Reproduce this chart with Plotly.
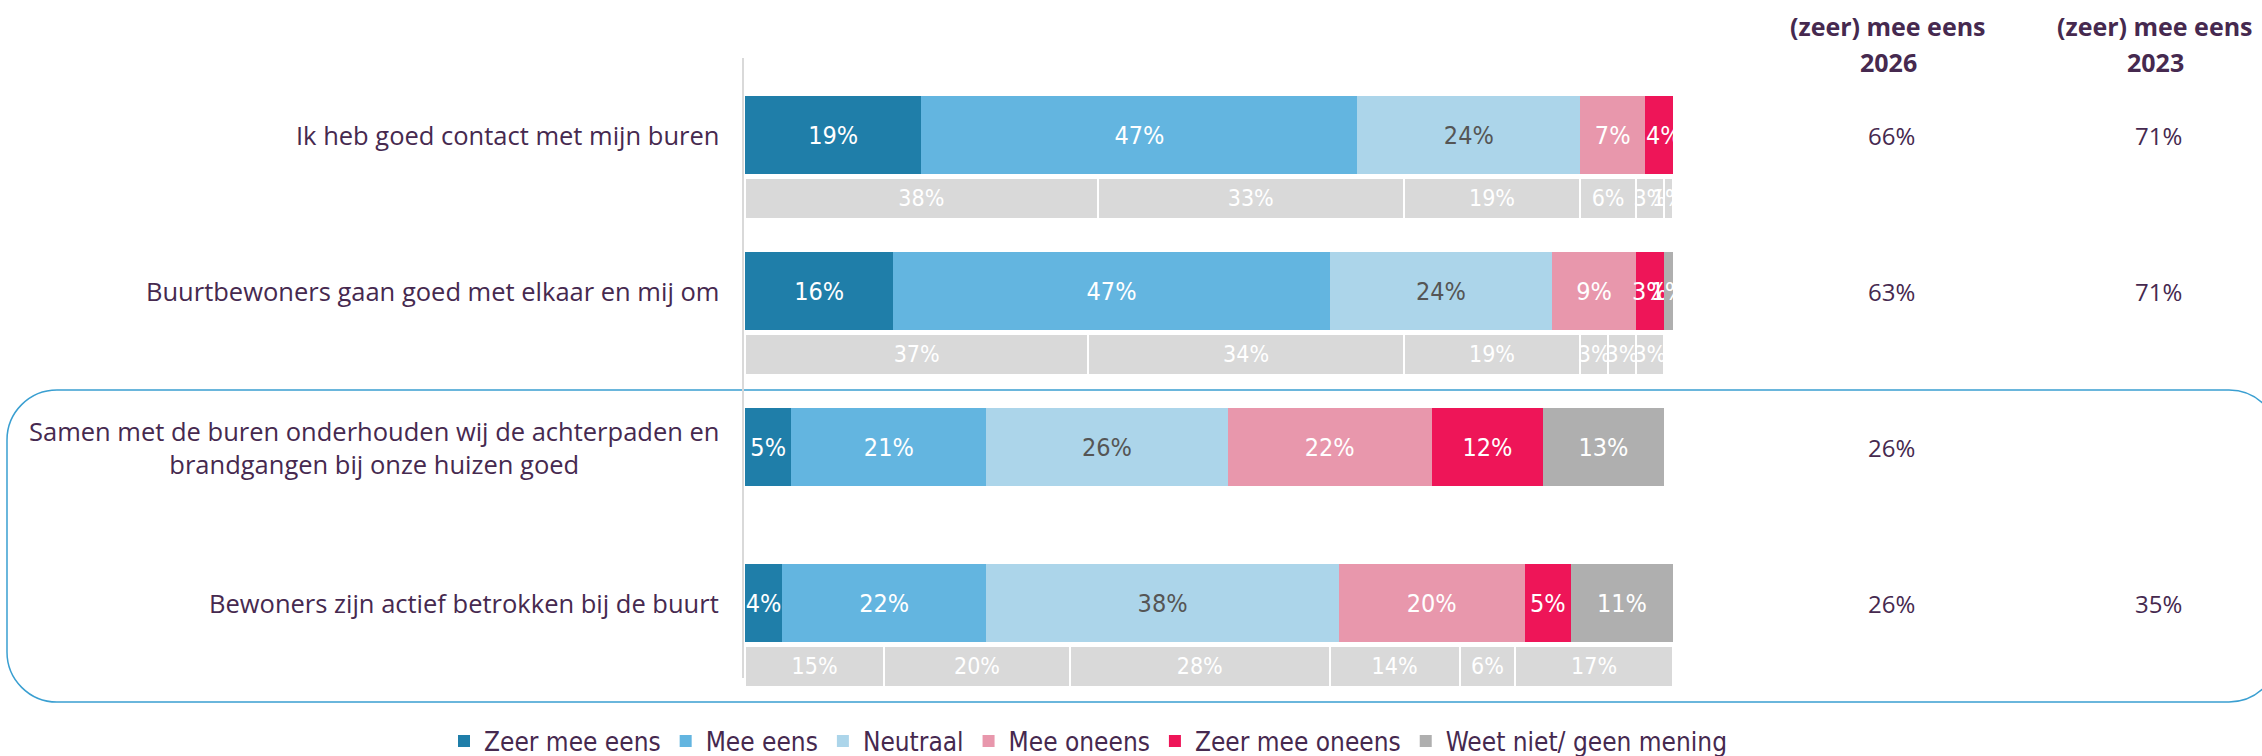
import plotly.graph_objects as go

# Stellingen (rows, top to bottom)
statements = [
    "Ik heb goed contact met mijn buren",
    "Buurtbewoners gaan goed met elkaar en mij om",
    "Samen met de buren onderhouden wij de achterpaden en<br>brandgangen bij onze huizen goed",
    "Bewoners zijn actief betrokken bij de buurt",
]

answer_labels = ["Zeer mee eens", "Mee eens", "Neutraal", "Mee oneens",
                 "Zeer mee oneens", "Weet niet/ geen mening"]

# Percentages 2026 per answer category
zeer_mee_eens_2026 = [19, 16, 5, 4]
mee_eens_2026 = [47, 47, 21, 22]
neutraal_2026 = [24, 24, 26, 38]
mee_oneens_2026 = [7, 9, 22, 20]
zeer_mee_oneens_2026 = [4, 3, 12, 5]
weet_niet_2026 = [0, 1, 13, 11]

# Percentages 2023 per answer category (statement 3 not asked in 2023)
zeer_mee_eens_2023 = [38, 37, None, 15]
mee_eens_2023 = [33, 34, None, 20]
neutraal_2023 = [19, 19, None, 28]
mee_oneens_2023 = [6, 3, None, 14]
zeer_mee_oneens_2023 = [3, 3, None, 6]
weet_niet_2023 = [1, 3, None, 17]

series_2026 = [zeer_mee_eens_2026, mee_eens_2026, neutraal_2026,
               mee_oneens_2026, zeer_mee_oneens_2026, weet_niet_2026]
series_2023 = [zeer_mee_eens_2023, mee_eens_2023, neutraal_2023,
               mee_oneens_2023, zeer_mee_oneens_2023, weet_niet_2023]

colors = ["#1f7ea9", "#63b5e0", "#acd5ea", "#e897ac", "#ee1558", "#afafaf"]
label_colors = ["white", "white", "#555555", "white", "white", "white"]
ghost_color = "#d9d9d9"
purple = "#46294f"

W, H = 2262, 756
M_L, M_R = 745, 589          # plot area spans the 0-100% bar range
M_B = 40                     # room below the plot area for the legend
PLOT_H = H - M_B
ROW_PX0, ROW_STEP = 135, 156  # pixel centre of first row and row spacing
GHOST_OFFSET = 0.407
MAIN_W, GHOST_W = 0.5, 0.263

narrow = "Liberation Sans Narrow, DejaVu Sans Condensed, Arial Narrow, sans-serif"
body = "Open Sans, Noto Sans, sans-serif"

rows = list(range(len(statements)))
ghost_rows = [r + GHOST_OFFSET for r in rows]


def pct_text(vals):
    return [f"{v}%" if v else "" for v in vals]


fig = go.Figure()

# 2026 bars
for name, vals, col, tcol in zip(answer_labels, series_2026, colors, label_colors):
    fig.add_trace(go.Bar(
        name=name, x=vals, y=rows, orientation="h", width=MAIN_W,
        marker=dict(color=col, line=dict(width=0)),
        text=pct_text(vals), textposition="inside", insidetextanchor="middle",
        textangle=0, constraintext="none",
        textfont=dict(family=narrow, size=25, color=tcol),
        hoverinfo="skip",
    ))

# 2023 reference bars (grey)
for name, vals in zip(answer_labels, series_2023):
    fig.add_trace(go.Bar(
        name=name + " 2023", x=vals, y=ghost_rows, orientation="h", width=GHOST_W,
        marker=dict(color=ghost_color, line=dict(width=2, color="white")),
        text=pct_text(vals), textposition="inside", insidetextanchor="middle",
        textangle=0, constraintext="none",
        textfont=dict(family=narrow, size=23, color="white"),
        showlegend=False, hoverinfo="skip",
    ))


def px_x(px):
    return (px - M_L) / (W - M_L - M_R)


def px_y(py):
    return 1 - py / PLOT_H


annotations = []

# Statement labels
for r, s in zip(rows, statements):
    annotations.append(dict(
        x=px_x(721), xref="paper", y=r, yref="y", text=s, showarrow=False,
        xanchor="right", yanchor="middle", align="center",
        font=dict(family=body, size=25.5, color=purple),
    ))

# (zeer) mee eens summary columns
agree_2026 = [a + b for a, b in zip(zeer_mee_eens_2026, mee_eens_2026)]
agree_2023 = [None if a is None else a + b
              for a, b in zip(zeer_mee_eens_2023, mee_eens_2023)]
for col_px, year, values in [(1888, "2026", agree_2026), (2155, "2023", agree_2023)]:
    annotations.append(dict(
        x=px_x(col_px), xref="paper", y=px_y(26), yref="paper",
        xanchor="center", yanchor="middle",
        text="<b>(zeer) mee eens</b>", showarrow=False,
        font=dict(family=body, size=25, color=purple)))
    annotations.append(dict(
        x=px_x(col_px), xref="paper", y=px_y(62), yref="paper",
        xanchor="center", yanchor="middle",
        text=f"<b>{year}</b>", showarrow=False,
        font=dict(family=body, size=25, color=purple)))
    for r, v in zip(rows, values):
        if v is None:
            continue
        annotations.append(dict(
            x=px_x(col_px + 3), xref="paper", y=r, yref="y", text=f"{v}%",
            xanchor="center", yanchor="middle",
            showarrow=False, font=dict(family=body, size=24, color=purple)))

# Rounded frame around the last two statements
x0, x1, y0, y1, rad = 7, 2279, 390, 702, 50
k = rad * 0.5523


def P(x, y):
    return f"{px_x(x):.5f},{px_y(y):.5f}"


frame_path = (
    f"M{P(x0 + rad, y0)} L{P(x1 - rad, y0)} "
    f"C{P(x1 - rad + k, y0)} {P(x1, y0 + rad - k)} {P(x1, y0 + rad)} "
    f"L{P(x1, y1 - rad)} "
    f"C{P(x1, y1 - rad + k)} {P(x1 - rad + k, y1)} {P(x1 - rad, y1)} "
    f"L{P(x0 + rad, y1)} "
    f"C{P(x0 + rad - k, y1)} {P(x0, y1 - rad + k)} {P(x0, y1 - rad)} "
    f"L{P(x0, y0 + rad)} "
    f"C{P(x0, y0 + rad - k)} {P(x0 + rad - k, y0)} {P(x0 + rad, y0)} Z"
)

shapes = [
    dict(type="path", xref="paper", yref="paper", path=frame_path,
         line=dict(color="#3a9fd1", width=1.5), layer="below"),
    dict(type="line", xref="paper", yref="paper",
         x0=px_x(743), x1=px_x(743), y0=px_y(58), y1=px_y(678),
         line=dict(color="#d9d9d9", width=2), layer="below"),
]

y_top = -ROW_PX0 / ROW_STEP
y_bot = (PLOT_H - ROW_PX0) / ROW_STEP

fig.update_layout(
    width=W, height=H,
    margin=dict(l=M_L, r=M_R, t=0, b=M_B, autoexpand=False),
    barmode="stack",
    paper_bgcolor="white", plot_bgcolor="rgba(0,0,0,0)",
    xaxis=dict(range=[0, 100], visible=False, fixedrange=True),
    yaxis=dict(range=[y_bot, y_top], visible=False, fixedrange=True),
    showlegend=True,
    legend=dict(orientation="h", traceorder="normal",
                x=px_x(444), xanchor="left",
                y=px_y(741), yanchor="middle",
                font=dict(family=narrow, size=26, color=purple),
                itemwidth=30, tracegroupgap=0, bgcolor="rgba(0,0,0,0)"),
    annotations=annotations,
    shapes=shapes,
)

fig.write_html("out.html")
